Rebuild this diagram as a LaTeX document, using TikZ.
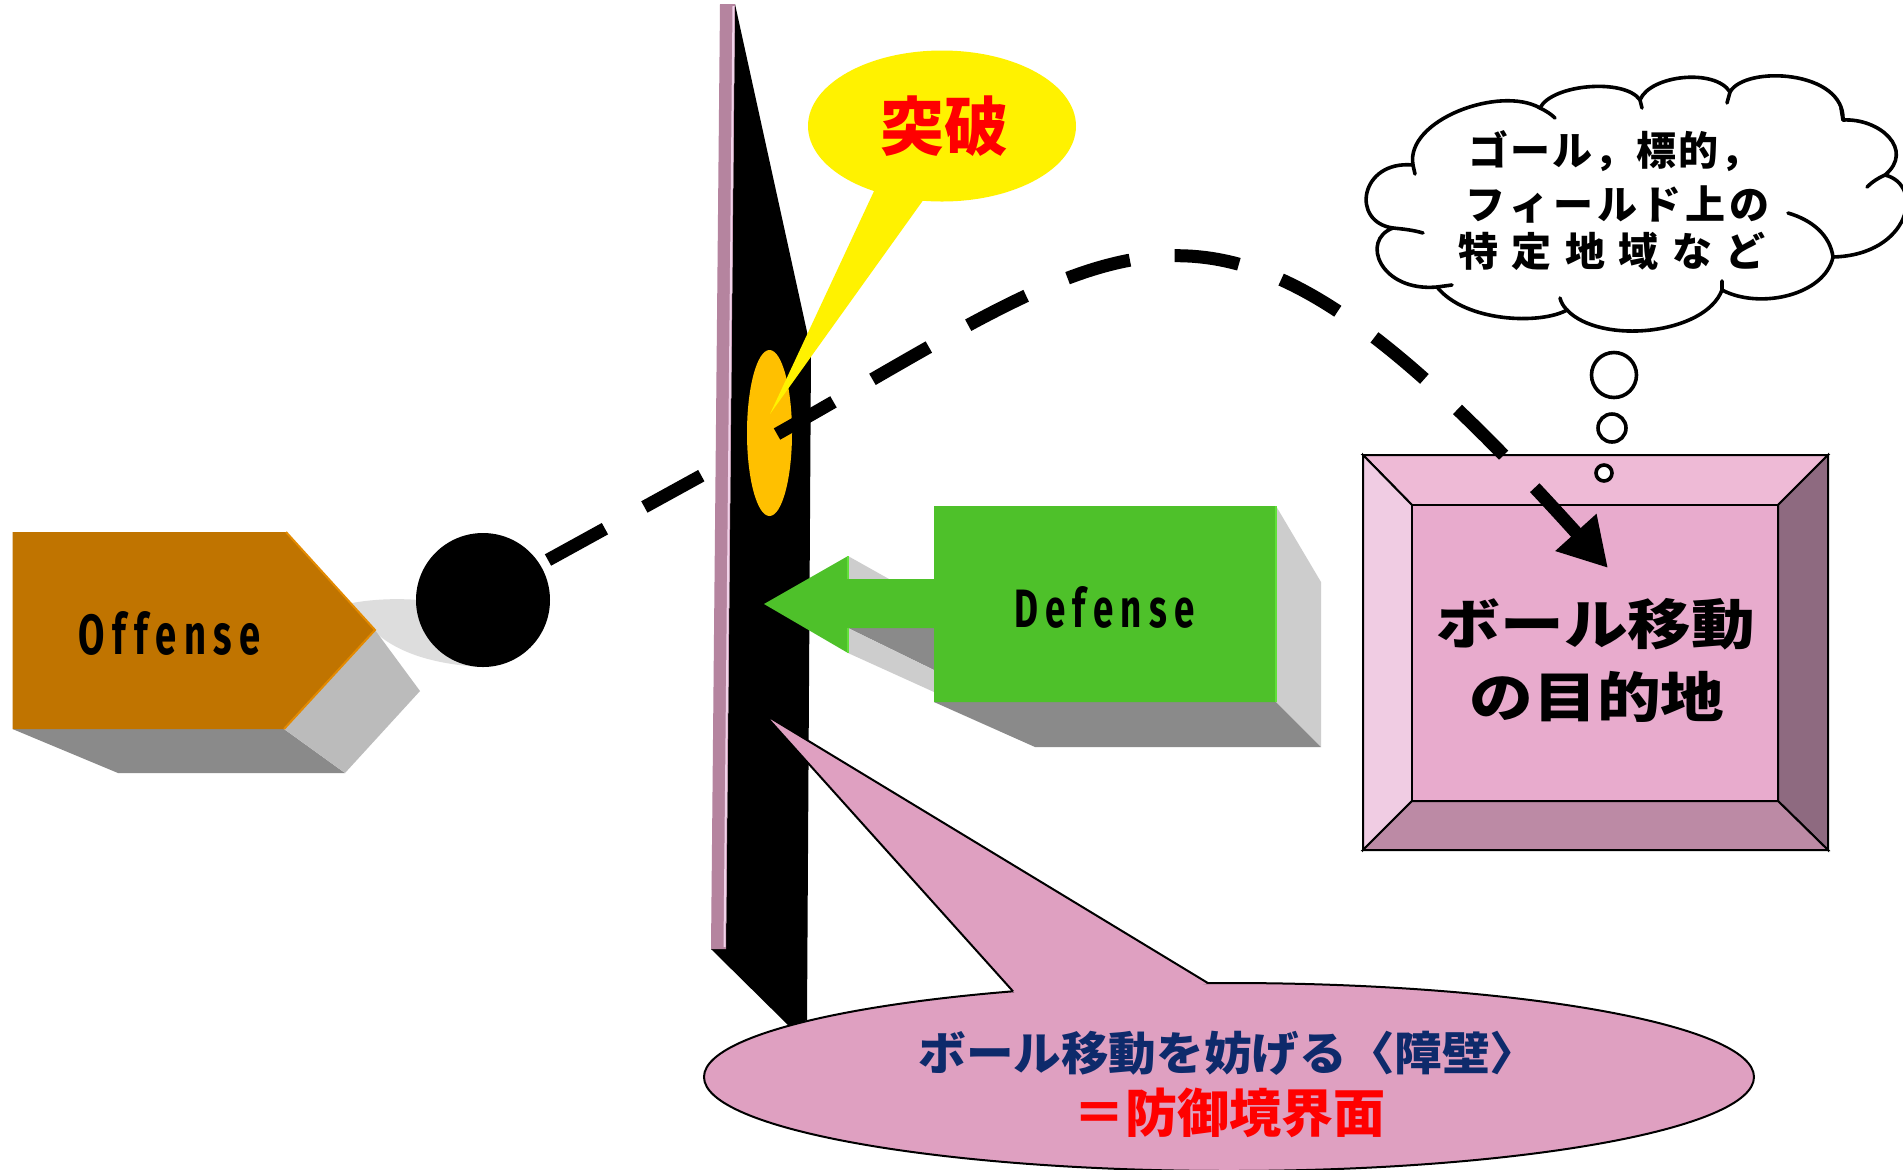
\documentclass[tikz,border=0pt]{standalone}
\usepackage{fontspec}
\usepackage{graphicx}
\usetikzlibrary{shapes.geometric,arrows.meta}
\setmainfont{Fira Sans}
\newfontfamily\jp{Noto Sans CJK JP}
\newfontfamily\lat{Fira Sans}
\definecolor{offorange}{HTML}{C07400}
\definecolor{offedge}{HTML}{E38A00}
\definecolor{shdark}{HTML}{8A8A8A}
\definecolor{shmid}{HTML}{BBBBBB}
\definecolor{shlight}{HTML}{CDCDCD}
\definecolor{blob}{HTML}{DDDDDD}
\definecolor{wallpink}{HTML}{B5849F}
\definecolor{wallhi}{HTML}{F2D3EA}
\definecolor{breachorange}{HTML}{FFC000}
\definecolor{defgreen}{HTML}{4EC12A}
\definecolor{defedge}{HTML}{62E03A}
\definecolor{bxtop}{HTML}{EEBAD6}
\definecolor{bxleft}{HTML}{F0CCE3}
\definecolor{bxright}{HTML}{8E6A80}
\definecolor{bxbottom}{HTML}{BC8AA5}
\definecolor{bxcenter}{HTML}{E8ABCD}
\definecolor{notepink}{HTML}{DFA0C1}
\definecolor{navy}{HTML}{0E2A6B}
\newcommand\ck{\kern1pt}
\newcommand\cm{\kern2pt}
\newcommand\cw{\kern6.75pt}
\begin{document}
\begin{tikzpicture}[x=0.5pt,y=-0.5pt,
  dashline/.style={line width=6.5pt, dash pattern=on 32.5pt off 22.5pt},
  jpbold/.style={font=\jp\bfseries\fontsize{#1}{#1}\selectfont, inner sep=0},
  latbold/.style={font=\lat\bfseries, inner sep=0},
  cloudline/.style={draw=black, line width=1.8pt, line cap=round, line join=round},
  thought/.style={circle, draw=black, line width=1.8pt, fill=white, inner sep=0},
  boxline/.style={draw=black, line width=1pt}]
\useasboundingbox (0,0) rectangle (1903,1169);
\clip (0,0) rectangle (1903,1169);
\fill[white] (0,0) rectangle (1903,1169);

% ---- Offense block ----
\fill[blob] (352,603) .. controls (385,597) and (425,598) .. (455,606) -- (483,667) .. controls (440,665) and (400,655) .. (375,632) -- cycle;
\fill[shdark] (12.5,729) -- (118,773) -- (345,773) -- (284,729) -- cycle;
\fill[shmid] (284,729) -- (375,630) -- (420,691) -- (345,773) -- cycle;
\fill[offorange] (12.5,532) -- (286,532) -- (375,630) -- (284,729) -- (12.5,729) -- cycle;
\draw[offedge, line width=1pt] (286,532) -- (375,630) -- (284,729);
\node[latbold] (offense) at (170,633) {\resizebox{91pt}{21.5pt}{O\kern.2em f\kern.2em f\kern.2em e\kern.2em n\kern.2em s\kern.2em e}};

% ---- ball ----
\node[circle, fill=black, minimum size=67pt, inner sep=0] (ball) at (483,600) {};
\coordinate (launch) at (548,560);
\coordinate (hit) at (777,434);
\coordinate (goal) at (1608,568);
\draw[dashline] (launch) -- (hit);

% ---- wall ----
\fill[black] (735,4) -- (811,350) -- (807,1020) -- (790,1027) -- (711,949) -- (726,949) -- cycle;
\fill[wallpink] (720,4) -- (735,4) -- (726,949) -- (711,949) -- cycle;
\draw[wallhi, line width=1pt] (733.5,6) -- (724.5,947);
\node[ellipse, fill=breachorange, minimum width=22.5pt, minimum height=83pt, inner sep=0] (breach) at (769.5,433) {};

% ---- yellow callout ----
\node[ellipse, fill=yellow, minimum width=134pt, minimum height=75.5pt, inner sep=0] (bubble) at (942,126) {};
\fill[yellow] (875,189) -- (770,414) -- (924,199) -- (900,170) -- cycle;
\node[jpbold=32pt, text=red] (toppa) at (944,126) {突破};

% ---- Defense block ----
\fill[shlight] (1276,506) -- (1321,582) -- (1321,747) -- (1276,702) -- cycle;
\fill[shdark] (934,702) -- (1035,747) -- (1321,747) -- (1276,702) -- cycle;
\fill[shlight] (848,556) -- (889,579) -- (848,579) -- cycle;
\fill[shdark] (848,628) -- (934,628) -- (934,670) -- cycle;
\fill[shlight] (848,628) -- (934,670) -- (934,692) -- (848,653) -- cycle;
\fill[defgreen] (934,506) -- (1276,506) -- (1276,702) -- (934,702) -- (934,628) -- (848,628) -- (848,653) -- (764,604) -- (848,556) -- (848,579) -- (934,579) -- cycle;
\draw[defedge, line width=0.8pt] (848,556) -- (848,579) (848,628) -- (848,653) (1276,506) -- (1276,702);
\node[latbold] (defense) at (1104.5,607.5) {\resizebox{90.5pt}{20.5pt}{D\kern.2em e\kern.2em f\kern.2em e\kern.2em n\kern.2em s\kern.2em e}};

% ---- destination box ----
\filldraw[fill=bxtop, boxline] (1363,455) -- (1828,455) -- (1778,505) -- (1412,505) -- cycle;
\filldraw[fill=bxleft, boxline] (1363,455) -- (1412,505) -- (1412,801) -- (1363,850) -- cycle;
\filldraw[fill=bxright, boxline] (1828,455) -- (1828,850) -- (1778,801) -- (1778,505) -- cycle;
\filldraw[fill=bxbottom, boxline] (1363,850) -- (1412,801) -- (1778,801) -- (1828,850) -- cycle;
\node[rectangle, fill=bxcenter, boxline, minimum width=183pt, minimum height=148pt, inner sep=0] (dest) at (1595,653) {};
\node[jpbold=27pt] (destA) at (1596,624) {\scalebox{1.18}[1]{ボール移動}};
\node[jpbold=27pt] (destB) at (1597,697) {\scalebox{1.18}[1]{の目的地}};

% ---- thought cloud ----
\path[cloudline, fill=white]
  (1413,165) .. controls (1405,120) and (1500,85) .. (1540,108)
  .. controls (1552,84) and (1625,78) .. (1640,100)
  .. controls (1650,75) and (1715,68) .. (1730,92)
  .. controls (1745,65) and (1845,70) .. (1843,120)
  .. controls (1880,118) and (1915,150) .. (1885,175)
  .. controls (1925,185) and (1910,255) .. (1833,257)
  .. controls (1825,295) and (1760,310) .. (1722,290)
  .. controls (1705,335) and (1600,345) .. (1567,310)
  .. controls (1540,325) and (1465,322) .. (1437,287)
  .. controls (1380,292) and (1360,240) .. (1393,228)
  .. controls (1350,222) and (1360,160) .. (1413,165) -- cycle;
\draw[cloudline] (1413,165) -- (1415,174)
  (1540,108) .. controls (1546,111) and (1551,114) .. (1555,118)
  (1640,100) -- (1642,108)
  (1730,92) -- (1727,103)
  (1843,120) -- (1841,108)
  (1885,175) .. controls (1878,178) and (1872,182) .. (1867,187)
  (1833,257) .. controls (1830,235) and (1812,220) .. (1788,213)
  (1722,290) -- (1722,281)
  (1567,310) .. controls (1563,306) and (1561,302) .. (1560,298)
  (1437,287) -- (1452,285)
  (1393,228) .. controls (1403,229) and (1413,230) .. (1423,233);
\node[jpbold=20pt, anchor=west] (cloudA) at (1468,151) {ゴ\ck ー\ck ル\ck ，\ck 標\ck 的\ck ，};
\node[jpbold=20pt, anchor=west] (cloudB) at (1465,204) {フ\cm ィ\cm ー\cm ル\cm ド\cm 上\cm の};
\node[jpbold=20pt, anchor=west] (cloudC) at (1458,251) {特\cw 定\cw 地\cw 域\cw な\cw ど};
\node[thought, minimum size=22.5pt] (t1) at (1614,375) {};
\node[thought, minimum size=14pt] (t2) at (1612,428) {};
\node[thought, minimum size=8pt] (t3) at (1604,473) {};

% ---- trajectory over the wall ----
\draw[dashline, -{Triangle[length=24pt,width=26pt]}] (hit) .. controls (1140,230) and (1212,129) .. (goal);

% ---- pink callout ----
\node[ellipse, fill=notepink, draw=black, line width=1pt, minimum width=525pt, minimum height=94pt, inner sep=0] (note) at (1229,1077) {};
\coordinate (notetip) at (764,714);
\fill[notepink] (1013,991.3) -- (notetip) -- (1208,983.1) -- (1150,1000) -- (1030,1005) -- cycle;
\draw[black, line width=1pt, line join=miter] (1013,991.3) -- (notetip) -- (1208,983.1);
\node[jpbold=23pt, text=navy] (noteA) at (1228,1053) {\scalebox{1.035}[1]{ボール移動を妨げる〈障壁〉}};
\node[jpbold=26pt, text=red] (noteB) at (1229,1113) {＝防御境界面};
\end{tikzpicture}
\end{document}
